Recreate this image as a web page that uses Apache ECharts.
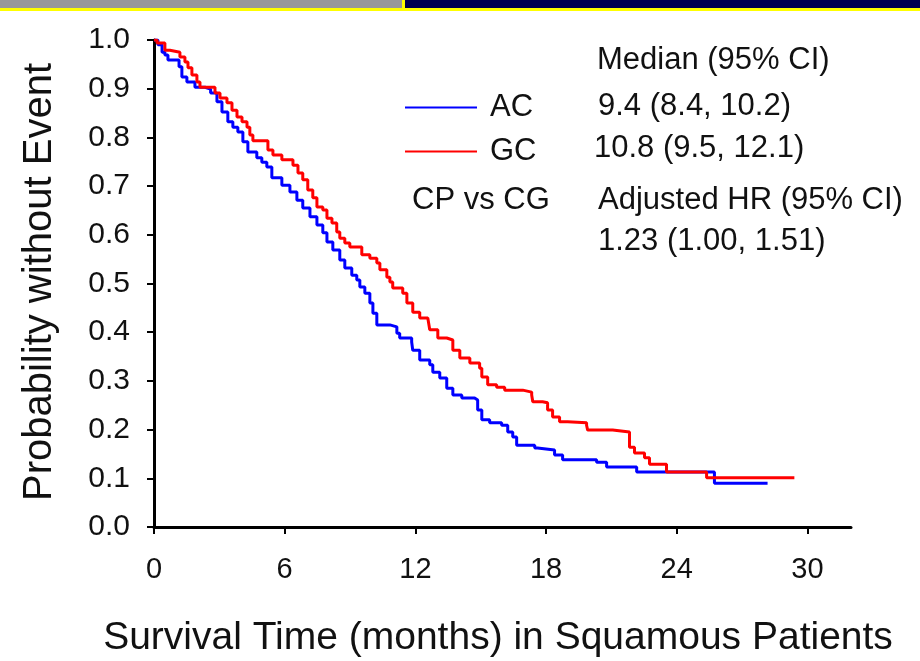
<!DOCTYPE html>
<html>
<head>
<meta charset="utf-8">
<script src="https://cdn.jsdelivr.net/npm/echarts@6/dist/echarts.min.js"></script>
<style>
  html, body { margin: 0; padding: 0; background: #ffffff; }
  #chart { width: 920px; height: 661px; }
</style>
</head>
<body>
<div id="chart"></div>
<script>
// Kaplan-Meier survival estimates: [months, probability without event]
const seriesNames = ['AC', 'GC'];

const acCurve = [
  [0, 1.0], [0.18, 0.990], [0.37, 0.975], [0.5, 0.969], [0.64, 0.959], [1.15, 0.945],
  [1.28, 0.924], [1.51, 0.914], [1.88, 0.903], [2.34, 0.899], [2.6, 0.891], [2.89, 0.873],
  [3.12, 0.852], [3.39, 0.832], [3.62, 0.821], [3.85, 0.811], [4.08, 0.791], [4.31, 0.770],
  [4.72, 0.758], [4.95, 0.749], [5.18, 0.739], [5.41, 0.717], [5.87, 0.702], [6.24, 0.688],
  [6.56, 0.671], [6.83, 0.655], [7.16, 0.637], [7.48, 0.620], [7.75, 0.604], [7.94, 0.585],
  [8.21, 0.569], [8.53, 0.548], [8.76, 0.532], [9.08, 0.517], [9.31, 0.507], [9.45, 0.493],
  [9.68, 0.480], [9.91, 0.460], [10.05, 0.439], [10.23, 0.415], [10.83, 0.411], [11.15, 0.398],
  [11.28, 0.388], [11.83, 0.380], [11.88, 0.363], [12.2, 0.343], [12.66, 0.333], [12.8, 0.318],
  [13.12, 0.306], [13.44, 0.285], [13.72, 0.271], [14.13, 0.265], [14.72, 0.261], [14.86, 0.240],
  [15.05, 0.220], [15.41, 0.214], [15.96, 0.209], [16.24, 0.195], [16.47, 0.185], [16.65, 0.168],
  [17.48, 0.162], [17.61, 0.158], [18.39, 0.148], [18.76, 0.138], [20.32, 0.133], [20.78, 0.123],
  [22.16, 0.113], [25.73, 0.090], [28.17, 0.090]
];

const gcCurve = [
  [0, 1.0], [0.14, 0.994], [0.5, 0.979], [0.73, 0.975], [1.19, 0.965], [1.42, 0.955],
  [1.56, 0.943], [1.74, 0.928], [1.97, 0.914], [2.11, 0.903], [2.8, 0.891], [3.03, 0.881],
  [3.35, 0.871], [3.58, 0.856], [3.81, 0.842], [4.04, 0.832], [4.27, 0.821], [4.4, 0.805],
  [4.54, 0.793], [5.23, 0.774], [5.46, 0.764], [5.87, 0.754], [6.38, 0.743], [6.61, 0.727],
  [6.83, 0.713], [7.06, 0.692], [7.29, 0.676], [7.48, 0.657], [7.75, 0.651], [7.94, 0.634],
  [8.17, 0.624], [8.39, 0.606], [8.53, 0.593], [8.76, 0.583], [8.99, 0.575], [9.54, 0.559],
  [9.91, 0.552], [10.23, 0.542], [10.37, 0.528], [10.69, 0.513], [10.83, 0.503], [10.96, 0.491],
  [11.42, 0.480], [11.61, 0.460], [11.88, 0.441], [12.2, 0.429], [12.57, 0.425], [12.66, 0.405],
  [13.03, 0.388], [13.44, 0.384], [13.72, 0.363], [14.04, 0.347], [14.5, 0.337], [14.95, 0.326],
  [15.05, 0.308], [15.32, 0.292], [15.73, 0.287], [16.1, 0.281], [16.93, 0.277], [17.34, 0.271],
  [17.39, 0.257], [17.84, 0.255], [18.07, 0.240], [18.3, 0.226], [18.62, 0.216], [18.99, 0.214],
  [19.86, 0.209], [19.91, 0.199], [21.06, 0.195], [21.83, 0.164], [22.06, 0.152], [22.52, 0.142],
  [22.75, 0.129], [23.53, 0.113], [25.37, 0.101], [29.4, 0.101]
];

const xTickValues = [0, 6, 12, 18, 24, 30];

const medianHeader = 'Median (95% CI)';
const medianTexts = ['9.4 (8.4, 10.2)', '10.8 (9.5, 12.1)'];
const comparisonLabel = 'CP vs CG';
const hrHeader = 'Adjusted HR (95% CI)';
const hrText = '1.23 (1.00, 1.51)';
const xTitle = 'Survival Time (months) in Squamous Patients';
const yTitle = 'Probability without Event';

const FONT = '"Liberation Sans", Arial, sans-serif';
const TEXT_COLOR = '#111111';

const chart = echarts.init(document.getElementById('chart'));

function label(text, x, y) {
  return {
    type: 'text', left: x, top: y,
    style: { text: text, font: '31px ' + FONT, fill: TEXT_COLOR }
  };
}

chart.setOption({
  backgroundColor: '#ffffff',
  animation: false,
  grid: { left: 154, right: 69, top: 40, bottom: 134 },
  legend: {
    data: seriesNames,
    orient: 'vertical',
    left: 400, top: 87,
    itemWidth: 72, itemHeight: 2,
    itemGap: 13,
    icon: 'rect',
    textStyle: { fontFamily: FONT, fontSize: 31, color: TEXT_COLOR, lineHeight: 31, padding: [0, 0, 0, 8] }
  },
  xAxis: {
    type: 'value', min: 0, max: 32,
    axisLine: { lineStyle: { color: '#000', width: 3 } },
    axisTick: { customValues: xTickValues, length: 7, lineStyle: { color: '#000', width: 2 } },
    axisLabel: { customValues: xTickValues, margin: 28, fontFamily: FONT, fontSize: 29, color: TEXT_COLOR },
    splitLine: { show: false }
  },
  yAxis: {
    type: 'value', min: 0, max: 1, interval: 0.1,
    axisLine: { show: true, lineStyle: { color: '#000', width: 3 } },
    axisTick: { show: true, length: 7, lineStyle: { color: '#000', width: 2 } },
    axisLabel: {
      margin: 24, fontFamily: FONT, fontSize: 30, color: TEXT_COLOR,
      formatter: v => v.toFixed(1)
    },
    splitLine: { show: false }
  },
  series: [
    {
      name: seriesNames[0], type: 'line', step: 'end', data: acCurve,
      symbol: 'none', lineStyle: { color: '#0000ff', width: 3 }, itemStyle: { color: '#0000ff' }
    },
    {
      name: seriesNames[1], type: 'line', step: 'end', data: gcCurve,
      symbol: 'none', lineStyle: { color: '#ff0000', width: 3 }, itemStyle: { color: '#ff0000' }
    }
  ],
  graphic: [
    // header band
    { type: 'rect', shape: { x: 0, y: 0, width: 403, height: 8 }, style: { fill: '#999999' } },
    { type: 'rect', shape: { x: 405, y: 0, width: 515, height: 8 }, style: { fill: '#000050' } },
    { type: 'rect', shape: { x: 402, y: 0, width: 3, height: 8 }, style: { fill: '#ffff00' } },
    { type: 'rect', shape: { x: 0, y: 8, width: 920, height: 3 }, style: { fill: '#ffff00' } },
    // annotations
    label(medianHeader, 597, 45),
    label(medianTexts[0], 598, 91),
    label(medianTexts[1], 594, 133),
    label(comparisonLabel, 412, 185),
    label(hrHeader, 598, 185),
    label(hrText, 598, 226),
    // axis titles
    {
      type: 'text', x: 498, y: 638,
      style: { text: xTitle, font: '39px ' + FONT, fill: TEXT_COLOR, align: 'center', verticalAlign: 'middle' }
    },
    {
      type: 'text', x: 40, y: 282, rotation: Math.PI / 2,
      style: { text: yTitle, font: '40px ' + FONT, fill: TEXT_COLOR, align: 'center', verticalAlign: 'middle' }
    }
  ]
});
</script>
</body>
</html>
